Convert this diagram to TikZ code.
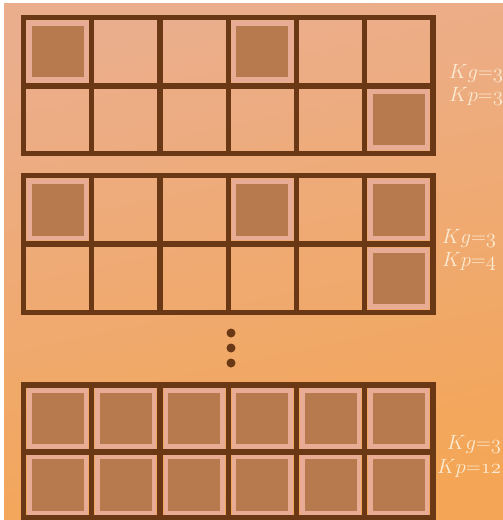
\documentclass[tikz,border=0pt]{standalone}
\definecolor{bgtop}{HTML}{EBAE8D}
\definecolor{bgbot}{HTML}{F4A656}
\definecolor{gridline}{HTML}{6B3815}
\definecolor{cellfill}{HTML}{B67A4E}
\definecolor{cellrim}{HTML}{E8AB93}
\definecolor{labeltext}{HTML}{FCEBD3}
\tikzset{
  gridstyle/.style={draw=gridline, line width=5.2bp},
  filledcell/.style={fill=cellfill, draw=cellrim, line width=4.5bp},
  klabel/.style={text=labeltext, anchor=base, font=\fontsize{19.5}{20}\selectfont, inner sep=0pt},
  dotstyle/.style={fill=gridline}
}
\newcommand{\mkgrid}[3]{% top, mid, bottom
  \foreach \k in {0,...,6}{
    \draw[gridstyle, line cap=rect] ({23.5+\k*68.25},#1) -- ({23.5+\k*68.25},#3);
  }
  \draw[gridstyle, line cap=rect] (23.5,#1) -- (433,#1);
  \draw[gridstyle] (23.5,#2) -- (433,#2);
  \draw[gridstyle, line cap=rect] (23.5,#3) -- (433,#3);
}
\newcommand{\mkcell}[3]{% col, rowtop, rowbottom
  \draw[filledcell] ({23.5+#1*68.25+34.1-28.3},{(#2+#3)/2-28}) rectangle ({23.5+#1*68.25+34.1+28.3},{(#2+#3)/2+28});
}
\begin{document}
\begin{tikzpicture}[x=1bp,y=-1bp]
\useasboundingbox (0,0) rectangle (503,520);
\fill[white] (0,0) rectangle (503,520);
\shade[top color=bgtop, bottom color=bgbot, shading angle=12] (4,4) rectangle (503,520);
% grid 1
\foreach \c in {0,3}{\mkcell{\c}{17.5}{86}}
\mkcell{5}{86}{153.5}
\mkgrid{17.5}{86}{153.5}
% grid 2
\foreach \c in {0,3,5}{\mkcell{\c}{175.5}{244}}
\mkcell{5}{244}{312.5}
\mkgrid{175.5}{244}{312.5}
% dots
\fill[dotstyle] (231,333) circle (4.5bp);
\fill[dotstyle] (231,348) circle (4.5bp);
\fill[dotstyle] (231,363) circle (4.5bp);
% grid 3
\foreach \c in {0,...,5}{\mkcell{\c}{385}{452}\mkcell{\c}{452}{518}}
\mkgrid{385}{452}{518}
% labels
\node[klabel] (l1a) at (476,79) {$Kg{=}\mathnormal{3}$};
\node[klabel] (l1b) at (476,102) {$Kp{=}\mathnormal{3}$};
\node[klabel] (l2a) at (469,243) {$Kg{=}\mathnormal{3}$};
\node[klabel] (l2b) at (469,266) {$Kp{=}\mathnormal{4}$};
\node[klabel] (l3a) at (474,449) {$Kg{=}\mathnormal{3}$};
\node[klabel] (l3b) at (469,473) {$Kp{=}\mathnormal{12}$};
\end{tikzpicture}
\end{document}
